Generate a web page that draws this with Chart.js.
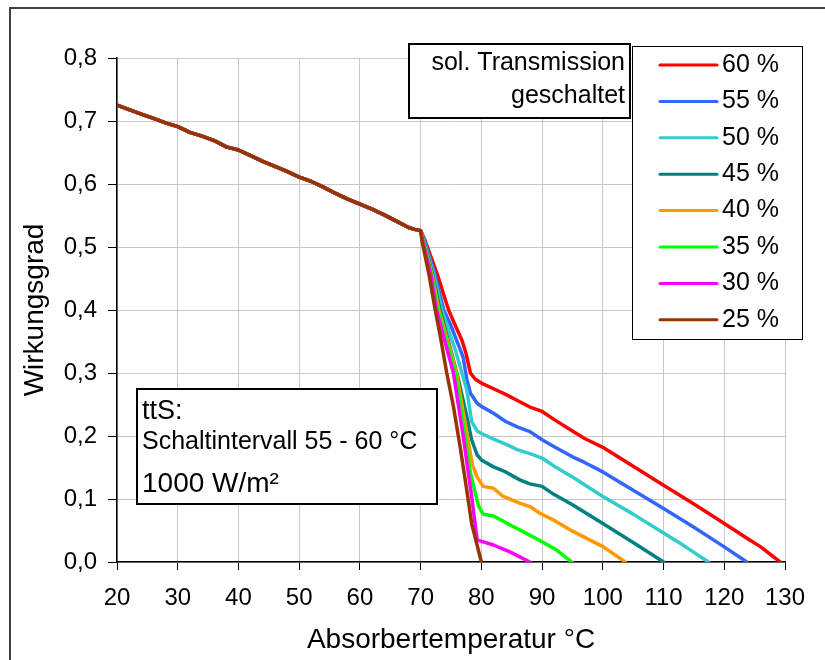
<!DOCTYPE html>
<html lang="de">
<head>
    <meta charset="UTF-8">
    <title>Wirkungsgrad über Absorbertemperatur</title>
    <script src="https://cdn.jsdelivr.net/npm/chart.js"></script>
    <style>
        html, body { margin: 0; padding: 0; background: #fff; }
        #box { width: 825px; height: 660px; }
    </style>
</head>
<body>
<div id="box"><canvas id="grafik" width="825" height="660"></canvas></div>
<script>
    // gemeinsamer Verlauf bis zum Schalten (alle Kurven deckungsgleich)
    const tempGemeinsam = [20, 22, 24, 26, 28, 30, 32, 34, 36, 38, 40, 42, 44, 46, 48, 50, 52, 54, 56, 58, 60, 62, 64, 66, 68, 69, 70];
    const etaGemeinsam = [0.725, 0.718, 0.711, 0.704, 0.697, 0.691, 0.682, 0.676, 0.669, 0.659, 0.654, 0.645, 0.636, 0.628, 0.620, 0.611, 0.604, 0.595, 0.585, 0.576, 0.568, 0.560, 0.551, 0.541, 0.531, 0.528, 0.526];

    // nach dem Schalten, je sol. Transmission
    const temp60 = [70.7, 72.8, 74.6, 75.5, 76.8, 77.5, 78.2, 79, 80, 82, 84, 86, 88, 90, 92, 95, 97, 100, 105, 110, 115, 120, 124, 126, 129.2];
    const eta60 = [0.511, 0.455, 0.40, 0.38, 0.352, 0.33, 0.30, 0.29, 0.284, 0.275, 0.266, 0.256, 0.246, 0.239, 0.226, 0.208, 0.196, 0.182, 0.152, 0.122, 0.092, 0.061, 0.036, 0.024, 0];

    const temp55 = [70.6, 72.4, 73.8, 75, 76.2, 77, 77.6, 78.2, 79.3, 80, 82, 84, 86, 88, 90, 92, 95, 97, 100, 105, 110, 115, 120, 123.7];
    const eta55 = [0.511, 0.455, 0.40, 0.375, 0.345, 0.325, 0.29, 0.268, 0.252, 0.247, 0.236, 0.223, 0.214, 0.207, 0.194, 0.183, 0.167, 0.158, 0.143, 0.114, 0.085, 0.055, 0.024, 0];

    const temp50 = [70.5, 72.2, 73.5, 75.7, 76.8, 77.6, 78.4, 79.3, 80, 82, 84, 86, 88, 90, 92, 95, 100, 105, 110, 113, 117.4];
    const eta50 = [0.511, 0.455, 0.40, 0.337, 0.30, 0.273, 0.223, 0.208, 0.204, 0.195, 0.187, 0.178, 0.172, 0.165, 0.152, 0.135, 0.104, 0.076, 0.046, 0.028, 0];

    const temp45 = [70.5, 72.0, 73.2, 76.1, 77.6, 78.4, 79.3, 80, 82, 84, 86.4, 88, 90, 92, 95, 100, 105, 110];
    const eta45 = [0.511, 0.455, 0.40, 0.295, 0.231, 0.194, 0.17, 0.162, 0.151, 0.143, 0.13, 0.124, 0.12, 0.107, 0.091, 0.061, 0.031, 0];

    const temp40 = [70.4, 71.9, 73.0, 75.9, 77.7, 78.5, 79.3, 80.3, 82, 83.6, 86.4, 88, 89.7, 92, 94.6, 100.1, 103.7];
    const eta40 = [0.511, 0.455, 0.40, 0.30, 0.20, 0.155, 0.135, 0.12, 0.117, 0.104, 0.093, 0.088, 0.077, 0.066, 0.051, 0.024, 0];

    const temp35 = [70.4, 71.8, 72.8, 75.7, 77.3, 78.2, 79.5, 80.3, 82, 85.3, 87.5, 89.1, 92.4, 94.9];
    const eta35 = [0.511, 0.455, 0.40, 0.30, 0.20, 0.141, 0.09, 0.076, 0.073, 0.056, 0.045, 0.037, 0.019, 0];

    const temp30 = [70.3, 71.7, 72.6, 75.4, 77, 78.4, 79.3, 80.3, 82, 84.7, 88];
    const eta30 = [0.511, 0.455, 0.40, 0.30, 0.20, 0.104, 0.035, 0.032, 0.027, 0.016, 0];

    const temp25 = [70.2, 71.4, 72.4, 73.3, 74.3, 75.4, 76.5, 77.6, 78.4, 80];
    const eta25 = [0.511, 0.455, 0.40, 0.355, 0.30, 0.247, 0.183, 0.114, 0.061, 0];

    const beschriftungen = ['60 %', '55 %', '50 %', '45 %', '40 %', '35 %', '30 %', '25 %'];
    const farben = ['#ff0000', '#3366ff', '#33cccc', '#008080', '#ff9900', '#00ff00', '#ff00ff', '#993300'];
    const temps = [temp60, temp55, temp50, temp45, temp40, temp35, temp30, temp25];
    const etas = [eta60, eta55, eta50, eta45, eta40, eta35, eta30, eta25];

    const schrift = "'Liberation Sans', Arial, sans-serif";

    function punkte(t, e) {
        return t.map(function(x, i) { return { x: x, y: e[i] }; });
    }

    const gemeinsam = punkte(tempGemeinsam, etaGemeinsam);

    let datensaetze = beschriftungen.map(function(name, i) {
        return {
            label: name,
            data: gemeinsam.concat(punkte(temps[i], etas[i])),
            borderColor: farben[i],
            backgroundColor: farben[i],
            borderWidth: 3.5,
            pointRadius: 0,
            tension: 0,
            borderJoinStyle: 'round',
            borderCapStyle: 'round',
            order: beschriftungen.length - i   // braun liegt oben
        };
    });

    // Rahmen, Textfelder und Legende
    const extras = {
        id: 'extras',
        beforeDraw(chart) {
            const ctx = chart.ctx;
            ctx.save();
            ctx.fillStyle = '#fff';
            ctx.fillRect(0, 0, chart.width, chart.height);
            ctx.restore();
        },
        afterDraw(chart) {
            const ctx = chart.ctx;
            ctx.save();

            // äußerer Rahmen
            ctx.strokeStyle = '#404040';
            ctx.lineWidth = 2;
            ctx.beginPath();
            ctx.moveTo(10, 660);
            ctx.lineTo(10, 8);
            ctx.lineTo(825, 8);
            ctx.stroke();

            // Feld oben
            ctx.fillStyle = '#fff';
            ctx.fillRect(409, 44, 221, 74);
            ctx.strokeStyle = '#000';
            ctx.lineWidth = 2;
            ctx.strokeRect(409, 44, 221, 74);
            ctx.fillStyle = '#000';
            ctx.font = '25px ' + schrift;
            ctx.textAlign = 'right';
            ctx.textBaseline = 'alphabetic';
            ctx.fillText('sol. Transmission', 625, 70);
            ctx.fillText('geschaltet', 625, 103);

            // Feld unten links
            ctx.fillStyle = '#fff';
            ctx.fillRect(137, 389, 300, 115);
            ctx.strokeRect(137, 389, 300, 115);
            ctx.fillStyle = '#000';
            ctx.textAlign = 'left';
            ctx.font = '27px ' + schrift;
            ctx.fillText('ttS:', 142, 419);
            ctx.font = '25px ' + schrift;
            ctx.fillText('Schaltintervall 55 - 60 °C', 142, 449);
            ctx.font = '28px ' + schrift;
            ctx.fillText('1000 W/m²', 142, 492);

            // Legende
            ctx.fillStyle = '#fff';
            ctx.fillRect(632, 46, 170, 293);
            ctx.strokeStyle = '#000';
            ctx.lineWidth = 1;
            ctx.strokeRect(632.5, 46.5, 170, 293);
            ctx.font = '25px ' + schrift;
            ctx.textBaseline = 'middle';
            ctx.lineCap = 'round';
            beschriftungen.forEach(function(name, i) {
                const y = 65 + i * 36.4;
                ctx.strokeStyle = farben[i];
                ctx.lineWidth = 3;
                ctx.beginPath();
                ctx.moveTo(660, y);
                ctx.lineTo(717, y);
                ctx.stroke();
                ctx.fillStyle = '#000';
                ctx.fillText(name, 722, y);
            });

            ctx.restore();
        }
    };

    Chart.defaults.font.family = schrift;
    Chart.defaults.color = '#000';

    new Chart(document.getElementById('grafik'), {
        type: 'line',
        data: { datasets: datensaetze },
        options: {
            responsive: false,
            animation: false,
            layout: { padding: { left: 0, top: 58, right: 40, bottom: 0 } },
            plugins: {
                legend: { display: false },
                tooltip: { enabled: false }
            },
            scales: {
                x: {
                    type: 'linear',
                    min: 20,
                    max: 130,
                    ticks: { stepSize: 10, font: { size: 24 }, padding: 14, maxRotation: 0 },
                    grid: { color: '#c8c8c8', tickColor: '#000', tickLength: 8 },
                    border: { color: '#000', width: 1.5 },
                    title: { display: true, text: 'Absorbertemperatur °C', font: { size: 28 }, padding: { top: 0, bottom: 3 } },
                    afterFit(scale) { scale.height = 98; }
                },
                y: {
                    min: 0,
                    max: 0.8,
                    ticks: {
                        stepSize: 0.1,
                        font: { size: 24 },
                        padding: 11,
                        callback: function(v) { return v.toFixed(1).replace('.', ','); }
                    },
                    grid: { color: '#c8c8c8', tickColor: '#000', tickLength: 9 },
                    border: { color: '#000', width: 1.5 },
                    title: { display: true, text: 'Wirkungsgrad', font: { size: 28 }, padding: { top: 18, bottom: 0 } },
                    afterFit(scale) { scale.width = 117; }
                }
            }
        },
        plugins: [extras]
    });
</script>
</body>
</html>
